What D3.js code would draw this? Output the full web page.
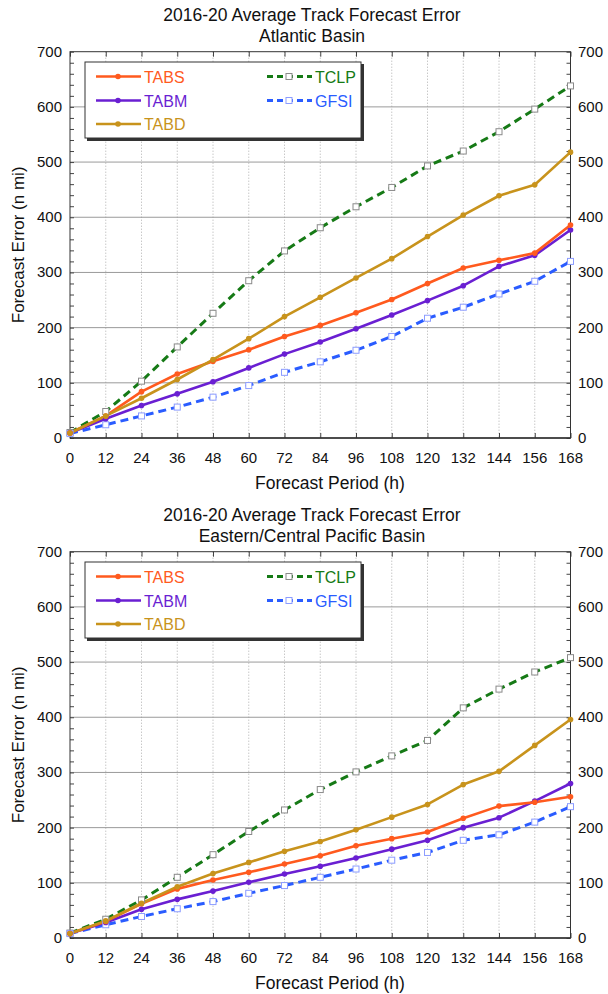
<!DOCTYPE html>
<html><head><meta charset="utf-8">
<script src="https://cdn.jsdelivr.net/npm/d3@7"></script>
<style>body{margin:0;background:#fff}svg{display:block;font-family:"Liberation Sans",Arial,sans-serif}</style>
</head><body><svg id="c" width="608" height="994"></svg>
<script>
const hours = [0,12,24,36,48,60,72,84,96,108,120,132,144,156,168];
const yTicks = [0,100,200,300,400,500,600,700];
const titleMain = "2016-20 Average Track Forecast Error";
const basinTitles = ["Atlantic Basin","Eastern/Central Pacific Basin"];
const seriesNames = ["TABS","TABM","TABD","TCLP","GFSI"];

// Atlantic
const atlTABS = [9,40,84,116,139,160,184,204,227,251,280,308,322,335,386];
const atlTABM = [9,35,59,80,102,127,152,174,198,223,249,276,311,331,377];
const atlTABD = [9,40,72,106,142,180,220,255,290,325,365,404,439,459,518];
const atlTCLP = [10,48,103,165,226,285,339,381,419,454,493,520,555,596,638];
const atlGFSI = [8,24,40,56,74,95,119,138,159,184,217,237,261,284,320];
// Eastern/Central Pacific
const epTABS = [8,30,62,89,105,119,134,149,167,180,192,217,239,246,256];
const epTABM = [8,28,52,70,85,101,116,130,145,161,177,200,218,248,280];
const epTABD = [8,31,63,93,117,137,157,175,196,219,242,278,302,349,396];
const epTCLP = [9,34,69,110,151,193,232,269,301,330,358,417,451,482,508];
const epGFSI = [8,24,39,53,66,81,95,110,125,141,155,177,187,210,238];

const styles = {
  TABS:{color:"#ff5a1e", dash:null, marker:"dot"},
  TABM:{color:"#6a1fd2", dash:null, marker:"dot"},
  TABD:{color:"#c8931c", dash:null, marker:"dot"},
  TCLP:{color:"#167a16", dash:"8,5", marker:"sq", mstroke:"#8a8a8a"},
  GFSI:{color:"#2a5cff", dash:"8,5", marker:"sq", mstroke:"#8c9cff"}
};

const svg = d3.select("#c");
const x = d3.scaleLinear().domain([0,168]).range([70,570.5]);

function panel(off, subtitle, dataArr){
  const g = svg.append("g").attr("transform",`translate(0,${off})`);
  const y = d3.scaleLinear().domain([0,700]).range([438,51.7]);
  // titles
  g.append("text").attr("x",312).attr("y",21).attr("text-anchor","middle").attr("font-size","17.5px").attr("fill","#111").text(titleMain);
  g.append("text").attr("x",312).attr("y",41.5).attr("text-anchor","middle").attr("font-size","17.5px").attr("fill","#111").text(subtitle);
  // horizontal grid
  g.append("g").selectAll("line").data(yTicks.slice(1,-1)).join("line")
    .attr("x1",70).attr("x2",570.5).attr("y1",d=>y(d)).attr("y2",d=>y(d))
    .attr("stroke","#9a9a9a").attr("stroke-width",1);
  // vertical dotted grid
  g.append("g").selectAll("line").data(hours.slice(1,-1)).join("line")
    .attr("x1",d=>x(d)).attr("x2",d=>x(d)).attr("y1",y(700)).attr("y2",y(0))
    .attr("stroke","#9a9a9a").attr("stroke-width",0.8).attr("stroke-dasharray","1,2");
  // axes (inward ticks)
  const minor = d3.range(0,701,20);
  const left = d3.axisRight(y).tickValues(minor).tickSize(4).tickFormat("");
  const right = d3.axisLeft(y).tickValues(minor).tickSize(4).tickFormat("");
  g.append("g").attr("transform","translate(70,0)").call(left).call(a=>{a.select(".domain").remove();a.selectAll("line").attr("stroke","#444");});
  g.append("g").attr("transform","translate(570.5,0)").call(right).call(a=>{a.select(".domain").remove();a.selectAll("line").attr("stroke","#444");});
  const top = d3.axisBottom(x).tickValues(hours).tickSize(5).tickFormat("");
  const bot = d3.axisTop(x).tickValues(hours).tickSize(5).tickFormat("");
  g.append("g").attr("transform",`translate(0,${y(700)})`).call(top).call(a=>{a.select(".domain").remove();a.selectAll("line").attr("stroke","#444");});
  g.append("g").attr("transform",`translate(0,${y(0)})`).call(bot).call(a=>{a.select(".domain").remove();a.selectAll("line").attr("stroke","#444");});
  // tick labels
  g.append("g").selectAll("text").data(yTicks).join("text")
    .attr("x",62).attr("y",d=>y(d)+5).attr("text-anchor","end").attr("font-size","15px").attr("fill","#111").text(d=>d);
  g.append("g").selectAll("text").data(yTicks).join("text")
    .attr("x",578).attr("y",d=>y(d)+5).attr("text-anchor","start").attr("font-size","15px").attr("fill","#111").text(d=>d);
  g.append("g").selectAll("text").data(hours).join("text")
    .attr("x",d=>x(d)).attr("y",462.5).attr("text-anchor","middle").attr("font-size","15px").attr("fill","#111").text(d=>d);
  g.append("text").attr("x",330).attr("y",488.5).attr("text-anchor","middle").attr("font-size","17.5px").attr("fill","#111").text("Forecast Period (h)");
  g.append("text").attr("transform",`translate(24,${(y(0)+y(700))/2}) rotate(-90)`).attr("text-anchor","middle").attr("font-size","17px").attr("fill","#111").text("Forecast Error (n mi)");
  // frame
  g.append("rect").attr("x",70).attr("y",y(700)).attr("width",500.5).attr("height",y(0)-y(700))
    .attr("fill","none").attr("stroke","#333").attr("stroke-width",1);
  g.append("line").attr("x1",70).attr("x2",570.5).attr("y1",y(0)).attr("y2",y(0)).attr("stroke","#333").attr("stroke-width",1.6);

  // series
  const order = ["TCLP","GFSI","TABM","TABS","TABD"];
  const line = d3.line().x((d,i)=>x(hours[i])).y(d=>y(d));
  order.forEach(name=>{
    const vals = dataArr[seriesNames.indexOf(name)];
    const s = styles[name];
    g.append("path").datum(vals).attr("d",line).attr("fill","none")
      .attr("stroke",s.color).attr("stroke-width",s.dash?3:2.6)
      .attr("stroke-dasharray",s.dash).attr("stroke-linejoin","round");
  });
  order.forEach(name=>{
    const vals = dataArr[seriesNames.indexOf(name)];
    const s = styles[name];
    if(s.marker==="dot"){
      g.append("g").selectAll("circle").data(vals).join("circle")
        .attr("cx",(d,i)=>x(hours[i])).attr("cy",d=>y(d)).attr("r",2.8).attr("fill",s.color);
    } else {
      g.append("g").selectAll("rect").data(vals).join("rect")
        .attr("x",(d,i)=>x(hours[i])-3).attr("y",d=>y(d)-3).attr("width",6).attr("height",6)
        .attr("fill","#fff").attr("stroke",s.mstroke).attr("stroke-width",1);
    }
  });

  // legend
  const lg = g.append("g");
  lg.append("rect").attr("x",87).attr("y",64).attr("width",277).attr("height",77).attr("fill","#333");
  lg.append("rect").attr("x",85).attr("y",62).attr("width",276).attr("height",76).attr("fill","#fff").attr("stroke","#333").attr("stroke-width",1);
  const entries = [
    {n:"TABS",x0:96,yy:76.5},{n:"TABM",x0:96,yy:100.5},{n:"TABD",x0:96,yy:124},
    {n:"TCLP",x0:267,yy:76.5},{n:"GFSI",x0:267,yy:100.5}
  ];
  entries.forEach(e=>{
    const s = styles[e.n];
    lg.append("line").attr("x1",e.x0).attr("x2",e.x0+45).attr("y1",e.yy).attr("y2",e.yy)
      .attr("stroke",s.color).attr("stroke-width",s.dash?3:2.6).attr("stroke-dasharray",s.dash?"6,4":null);
    if(s.marker==="dot"){
      lg.append("circle").attr("cx",e.x0+22).attr("cy",e.yy).attr("r",2.8).attr("fill",s.color);
    } else {
      lg.append("rect").attr("x",e.x0+22-3).attr("y",e.yy-3).attr("width",6).attr("height",6).attr("fill","#fff").attr("stroke",s.mstroke);
    }
    lg.append("text").attr("x",e.x0+48).attr("y",e.yy+6).attr("font-size","16px").attr("fill",s.color).text(e.n);
  });
}

panel(0, basinTitles[0], [atlTABS,atlTABM,atlTABD,atlTCLP,atlGFSI]);
panel(500, basinTitles[1], [epTABS,epTABM,epTABD,epTCLP,epGFSI]);
</script></body></html>
